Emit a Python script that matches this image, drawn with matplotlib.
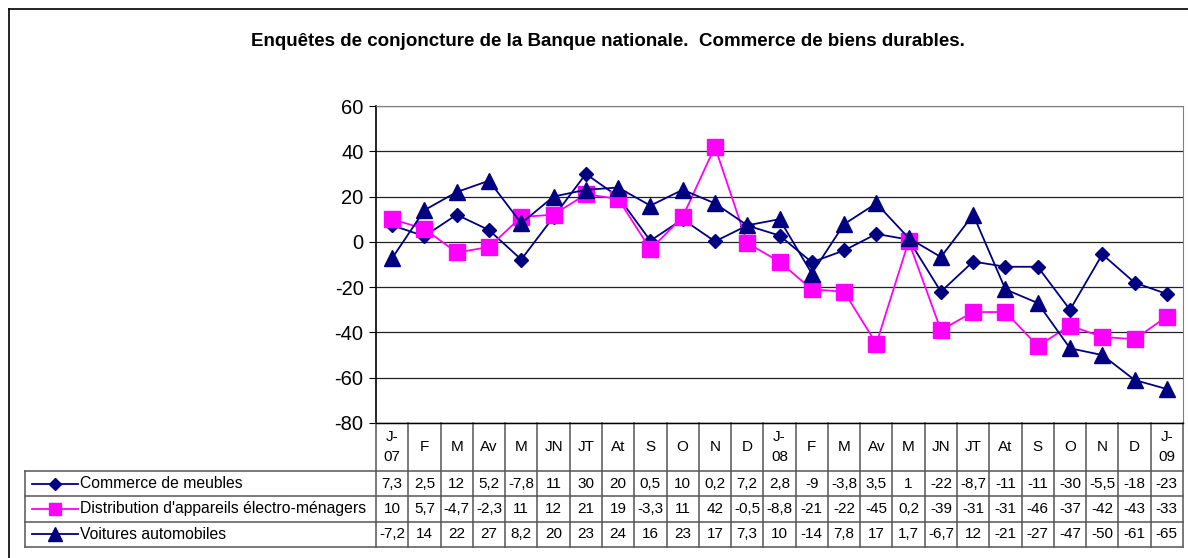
import numpy as np
import matplotlib.pyplot as plt
from matplotlib.transforms import blended_transform_factory

plt.rcParams['font.family'] = ['Liberation Sans', 'DejaVu Sans']
plt.rcParams['axes.unicode_minus'] = False

months = ["J-\n07", "F", "M", "Av", "M", "JN", "JT", "At", "S", "O", "N", "D",
          "J-\n08", "F", "M", "Av", "M", "JN", "JT", "At", "S", "O", "N", "D", "J-\n09"]
meubles = [7.3, 2.5, 12, 5.2, -7.8, 11, 30, 20, 0.5, 10, 0.2, 7.2, 2.8, -9, -3.8,
           3.5, 1, -22, -8.7, -11, -11, -30, -5.5, -18, -23]
distribution = [10, 5.7, -4.7, -2.3, 11, 12, 21, 19, -3.3, 11, 42, -0.5, -8.8, -21,
                -22, -45, 0.2, -39, -31, -31, -46, -37, -42, -43, -33]
voitures = [-7.2, 14, 22, 27, 8.2, 20, 23, 24, 16, 23, 17, 7.3, 10, -14, 7.8, 17,
            1.7, -6.7, 12, -21, -27, -47, -50, -61, -65]
names = ["Commerce de meubles", "Distribution d'appareils électro-ménagers",
         "Voitures automobiles"]
title = "Enquêtes de conjoncture de la Banque nationale.  Commerce de biens durables."

navy = '#000080'
magenta = '#FF00FF'
series = [(meubles, navy, 'D', 7.5), (distribution, magenta, 's', 11), (voitures, navy, '^', 12)]

W, H = 1188, 558
fig = plt.figure(figsize=(W / 100, H / 100), dpi=100)

# pixel layout
px_l, px_r, px_t, px_b = 376, 1183, 106, 423
ax = fig.add_axes([px_l / W, 1 - px_b / H, (px_r - px_l) / W, (px_b - px_t) / H])
x = np.arange(len(months))
for vals, c, m, ms in series:
    ax.plot(x, vals, color=c, marker=m, ms=ms, mec=c, mfc=c, lw=1.3, clip_on=False)
ax.set_xlim(-0.5, len(months) - 0.5)
ax.set_ylim(-80, 60)
ax.set_yticks(np.arange(-80, 61, 20))
ax.set_xticks([])
ax.tick_params(axis='y', labelsize=14.5, length=5, color='black', pad=4)
ax.yaxis.grid(True, color='#222222', lw=0.9)
ax.set_axisbelow(True)
for s in ['top', 'right']:
    ax.spines[s].set_color('#808080')
ax.spines['left'].set_linewidth(1.2)

fig.text(608 / W, 1 - 42 / H, title, ha='center', va='center', fontsize=13.5,
         fontweight='bold')

# frame around chart
fig.add_artist(plt.Line2D([9 / W, 1], [1 - 9 / H] * 2, color='black', lw=1.2))
fig.add_artist(plt.Line2D([9 / W] * 2, [0, 1 - 9 / H], color='black', lw=1.2))

# data table
tb_l, tb_b = 25, 547
tax = fig.add_axes([tb_l / W, 1 - tb_b / H, (px_r - tb_l) / W, (tb_b - px_b) / H])
tax.set_axis_off()
per = (px_r - px_l) / len(months)
tax.set_xlim(-0.5 - (px_l - tb_l) / per, len(months) - 0.5)
tax.set_ylim(tb_b - px_b, 0)
rows = [0, 48, 73.3, 98.7, 124]
lc = '#555555'
bt = blended_transform_factory(tax.transAxes, tax.transData)
for i in range(len(months) + 1):
    tax.plot([i - 0.5] * 2, [0, rows[-1]], color=lc, lw=1.1, clip_on=False)
tax.plot([-0.5, len(months) - 0.5], [0, 0], color='black', lw=1.0, clip_on=False)
for r in rows[1:]:
    tax.plot([0, 1], [r, r], color=lc, lw=1.1, transform=bt, clip_on=False)
tax.plot([0, 0], [rows[1], rows[-1]], color=lc, lw=1.1, transform=bt, clip_on=False)
for i, lab in enumerate(months):
    tax.text(i, rows[1] / 2, lab, ha='center', va='center', fontsize=11,
             linespacing=1.5)


def fmt(v):
    if float(v).is_integer():
        return str(int(v))
    return str(v).replace('.', ',')


lx0 = (32 - tb_l) / (px_r - tb_l)
lx1 = (78 - tb_l) / (px_r - tb_l)
for k, (vals, c, m, ms) in enumerate(series):
    yc = (rows[k + 1] + rows[k + 2]) / 2
    tax.plot([lx0, lx1], [yc, yc], color=c, lw=1.3, transform=bt)
    tax.plot([(lx0 + lx1) / 2], [yc], marker=m, color=c, ms=ms * 0.8, transform=bt)
    tax.text(lx1 + 0.002, yc, names[k], ha='left', va='center', fontsize=11.3, transform=bt)
    for i, v in enumerate(vals):
        tax.text(i, yc, fmt(v), ha='center', va='center', fontsize=11)

fig.savefig('out.png', dpi=100)
